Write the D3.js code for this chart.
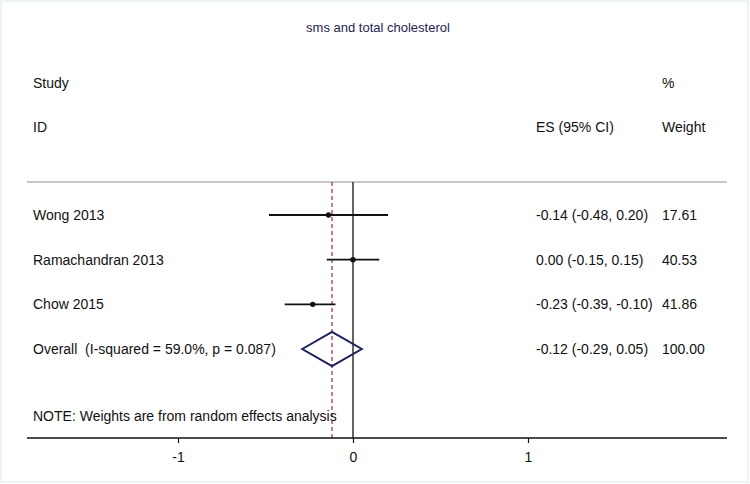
<!DOCTYPE html>
<html>
<head>
<meta charset="utf-8">
<script src="https://cdn.jsdelivr.net/npm/d3@7"></script>
<style>
  html, body { margin: 0; padding: 0; background: #fff; }
  text { font-family: "Liberation Sans", Arial, sans-serif; }
</style>
</head>
<body>
<svg id="chart" width="750" height="484"></svg>
<script>
const title = "sms and total cholesterol";
const studies = ["Wong 2013", "Ramachandran 2013", "Chow 2015"];
const es = [-0.14, 0.00, -0.23];
const lower = [-0.48, -0.15, -0.39];
const upper = [0.20, 0.15, -0.10];
const weights = ["17.61", "40.53", "41.86"];
const overallLabel = "Overall  (I-squared = 59.0%, p = 0.087)";
const overall = { es: -0.12, lower: -0.29, upper: 0.05, weight: "100.00" };
const xTicks = [-1, 0, 1];
const note = "NOTE: Weights are from random effects analysis";

(function () {
const svg = d3.select("#chart");
const W = 750, H = 484;

// faint frame
svg.append("rect").attr("x", 1).attr("y", 1).attr("width", W - 3).attr("height", H - 3)
  .attr("fill", "none").attr("stroke", "#e8f1f1").attr("stroke-width", 1.5);

const x = d3.scaleLinear().domain([-1, 1]).range([178, 528]);
const rowY = d3.scalePoint().domain([...studies, "Overall"]).range([215, 349]);

const yTop = 182, yBot = 438, xLeft = 27, xRight = 727;
const fs = 14;
const textCol = "#111";

svg.append("text").attr("x", 378).attr("y", 32).attr("text-anchor", "middle")
  .attr("font-size", 13).attr("fill", "#1f2452").text(title);

// headers
const hdr = svg.append("g").attr("font-size", fs).attr("fill", textCol);
hdr.append("text").attr("x", 33).attr("y", 88).text("Study");
hdr.append("text").attr("x", 33).attr("y", 132).text("ID");
hdr.append("text").attr("x", 662).attr("y", 88).text("%");
hdr.append("text").attr("x", 536).attr("y", 132).text("ES (95% CI)");
hdr.append("text").attr("x", 662).attr("y", 132).text("Weight");

// separator
svg.append("line").attr("x1", xLeft).attr("x2", xRight).attr("y1", yTop).attr("y2", yTop)
  .attr("stroke", "#b5b5b5").attr("stroke-width", 1.5);

// null line
svg.append("line").attr("x1", x(0)).attr("x2", x(0)).attr("y1", yTop).attr("y2", yBot)
  .attr("stroke", "#111").attr("stroke-width", 1.3);

// overall dashed line
svg.append("line").attr("x1", x(overall.es)).attr("x2", x(overall.es)).attr("y1", yTop).attr("y2", yBot)
  .attr("stroke", "#8b1c2c").attr("stroke-width", 1.1).attr("stroke-dasharray", "4,3");

// study CIs
const g = svg.append("g");
studies.forEach((s, i) => {
  const y = rowY(s);
  g.append("line").attr("x1", x(lower[i])).attr("x2", x(upper[i])).attr("y1", y).attr("y2", y)
    .attr("stroke", "#111").attr("stroke-width", 1.8);
  g.append("circle").attr("cx", x(es[i])).attr("cy", y).attr("r", 2.7).attr("fill", "#111");
  g.append("text").attr("x", 33).attr("y", y + 5).attr("font-size", fs).attr("fill", textCol).text(s);
  g.append("text").attr("x", 536).attr("y", y + 5).attr("font-size", fs).attr("fill", textCol)
    .text(`${es[i].toFixed(2)} (${lower[i].toFixed(2)}, ${upper[i].toFixed(2)})`);
  g.append("text").attr("x", 662).attr("y", y + 5).attr("font-size", fs).attr("fill", textCol).text(weights[i]);
});

// overall diamond
const oy = rowY("Overall");
const dh = 17;
svg.append("path")
  .attr("d", `M${x(overall.lower)},${oy} L${x(overall.es)},${oy - dh} L${x(overall.upper)},${oy} L${x(overall.es)},${oy + dh} Z`)
  .attr("fill", "none").attr("stroke", "#1a1f5e").attr("stroke-width", 2);
svg.append("text").attr("x", 33).attr("y", oy + 5).attr("font-size", fs).attr("fill", textCol)
  .attr("xml:space", "preserve").style("white-space", "pre").text(overallLabel);
svg.append("text").attr("x", 536).attr("y", oy + 5).attr("font-size", fs).attr("fill", textCol)
  .text(`${overall.es.toFixed(2)} (${overall.lower.toFixed(2)}, ${overall.upper.toFixed(2)})`);
svg.append("text").attr("x", 662).attr("y", oy + 5).attr("font-size", fs).attr("fill", textCol).text(overall.weight);

// note
svg.append("text").attr("x", 33).attr("y", 421).attr("font-size", fs).attr("fill", textCol).text(note);

// axis
const axis = d3.axisBottom(x).tickValues(xTicks).tickFormat(d => String(d)).tickSize(5).tickPadding(9);
const ag = svg.append("g").attr("transform", `translate(0,${yBot})`).call(axis);
ag.select(".domain").remove();
ag.append("line").attr("x1", xLeft).attr("x2", xRight).attr("stroke", "#111").attr("stroke-width", 1.3);
ag.selectAll(".tick line").attr("stroke", "#111").attr("stroke-width", 1.2);
ag.selectAll(".tick text").attr("font-size", fs).attr("fill", textCol)
  .attr("font-family", "Liberation Sans, Arial, sans-serif");
})();
</script>
</body>
</html>
